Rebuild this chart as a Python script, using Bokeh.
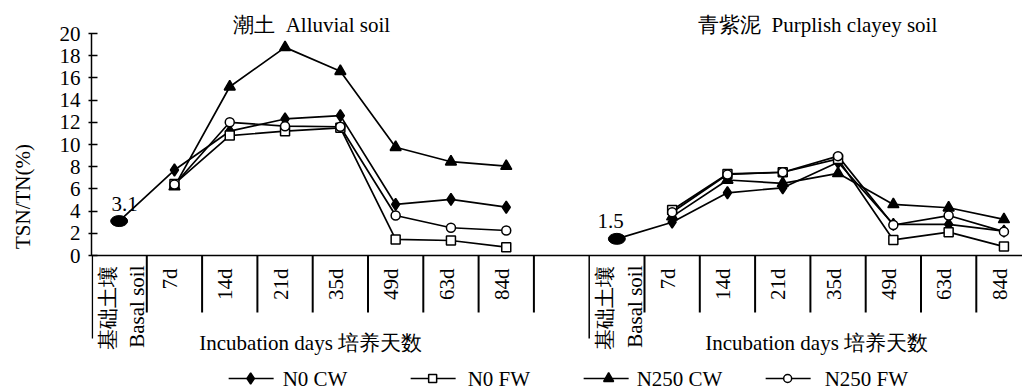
import math
from bokeh.plotting import figure
from bokeh.models import LinearAxis, FixedTicker, Range1d
from bokeh.core.properties import value
from bokeh.embed import file_html
from bokeh.resources import INLINE

# ---------------- data ----------------
days = ["7d", "14d", "21d", "35d", "49d", "63d", "84d"]
basal_cn = "基础土壤"
basal_en = "Basal soil"
soil_titles = ["潮土\u00a0 Alluvial soil", "青紫泥\u00a0 Purplish clayey soil"]
x_title = "Incubation days 培养天数"
y_title = "TSN/TN(%)"
series_names = ["N0 CW", "N0 FW", "N250 CW", "N250 FW"]
basal_values = [3.1, 1.5]
basal_texts = ["3.1", "1.5"]

alluvial_n0_cw = [7.7, 11.2, 12.3, 12.6, 4.6, 5.05, 4.35]
alluvial_n0_fw = [6.45, 10.8, 11.2, 11.5, 1.45, 1.35, 0.75]
alluvial_n250_cw = [6.2, 15.2, 18.75, 16.6, 9.75, 8.45, 8.05]
alluvial_n250_fw = [6.4, 12.0, 11.65, 11.6, 3.6, 2.5, 2.25]

purplish_n0_cw = [3.0, 5.65, 6.1, 8.4, 2.8, 2.8, 2.2]
purplish_n0_fw = [4.1, 7.35, 7.5, 8.7, 1.4, 2.1, 0.8]
purplish_n250_cw = [3.5, 6.8, 6.5, 7.4, 4.6, 4.3, 3.25]
purplish_n250_fw = [3.9, 7.3, 7.5, 8.95, 2.75, 3.6, 2.15]

y_ticks = list(range(0, 21, 2))

# ---------------- layout helpers (page pixels -> data) ----------------
CAT_PX = 55.3
UNIT_PX = 11.1
def X(px):
    return (px - 118.5) / CAT_PX
def Y(py):
    return (255.0 - py) / UNIT_PX

W, H = 1022, 392
LEFT = 91
x0 = -0.5
x1 = -0.5 + (W - LEFT) / CAT_PX
y0 = Y(H)
y1 = Y(0)

FONT = value("Liberation Serif")
FS = "21px"

p = figure(width=W, height=H, x_range=Range1d(x0, x1), y_range=Range1d(y0, y1),
           output_backend="svg", toolbar_location=None,
           x_axis_type=None, y_axis_type=None,
           min_border_left=LEFT, min_border_right=0, min_border_top=0, min_border_bottom=0)
p.outline_line_color = None
p.background_fill_color = "white"

yaxis = LinearAxis(bounds=(0, 20), ticker=FixedTicker(ticks=y_ticks), axis_label=y_title)
yaxis.axis_line_width = 1.5
yaxis.axis_line_color = "black"
yaxis.major_tick_in = 6
yaxis.major_tick_out = 3
yaxis.major_tick_line_width = 1.5
yaxis.minor_tick_line_color = None
yaxis.major_label_text_font = "Liberation Serif"
yaxis.major_label_text_font_size = FS
yaxis.major_label_text_color = "black"
yaxis.major_label_standoff = 8
yaxis.axis_label_text_font = "Liberation Serif"
yaxis.axis_label_text_font_size = FS
yaxis.axis_label_text_font_style = "normal"
yaxis.axis_label_text_color = "black"
yaxis.axis_label_standoff = 22
p.add_layout(yaxis, "left")

# ---------------- category axis (drawn on data scale) ----------------
n_cat = 17
bounds_x = [k - 0.5 for k in range(1, n_cat)]
short_x = [b for b in bounds_x if abs(b - 8.5) > 1e-9]
p.segment(x0=[x0], y0=[0], x1=[x1], y1=[0], line_color="black", line_width=1.5)
p.segment(x0=short_x, y0=[0] * len(short_x), x1=short_x, y1=[Y(312)] * len(short_x),
          line_color="black", line_width=2)
long_x = [x0 + 0.015, 8.5]
p.segment(x0=long_x, y0=[0, 0], x1=long_x, y1=[Y(338), Y(338)], line_color="black", line_width=1.5)

day_x = []
day_t = []
for off in (0, 9):
    for i, d in enumerate(days):
        day_x.append(off + 1 + i - 0.08)
        day_t.append(d)
p.text(x=day_x, y=[Y(268)] * len(day_x), text=day_t, angle=math.pi / 2,
       text_align="right", text_baseline="middle", text_font=FONT, text_font_size=FS,
       text_color="black")
bx, bt = [], []
for off in (0, 9):
    bx += [off - 0.21, off + 0.33]
    bt += [basal_cn, basal_en]
p.text(x=bx, y=[Y(265)] * 4, text=bt, angle=math.pi / 2,
       text_align="right", text_baseline="middle", text_font=FONT, text_font_size=FS,
       text_color="black")

# titles
p.text(x=[X(311), X(817)], y=[Y(24)] * 2, text=soil_titles, text_align="center",
       text_baseline="middle", text_font=FONT, text_font_size=FS, text_color="black")
p.text(x=[X(310), X(816)], y=[Y(342)] * 2, text=[x_title] * 2, text_align="center",
       text_baseline="middle", text_font=FONT, text_font_size=FS, text_color="black")

# ---------------- series ----------------
styles = {
    "N0 CW": dict(marker="diamond", size=12, fill_color="black"),
    "N0 FW": dict(marker="square", size=9, fill_color="white"),
    "N250 CW": dict(marker="triangle", size=11, fill_color="black"),
    "N250 FW": dict(marker="circle", size=9, fill_color="white"),
}
left_data = [alluvial_n0_cw, alluvial_n0_fw, alluvial_n250_cw, alluvial_n250_fw]
right_data = [purplish_n0_cw, purplish_n0_fw, purplish_n250_cw, purplish_n250_fw]

for name, ld, rd in zip(series_names, left_data, right_data):
    for off, vals, b in ((0, ld, basal_values[0]), (9, rd, basal_values[1])):
        xs = [off + 1 + i for i in range(len(vals))]
        ys = list(vals)
        if name == "N0 CW":
            xs = [off] + xs
            ys = [b] + ys
        p.line(xs, ys, line_color="black", line_width=1.7)

for name, ld, rd in zip(series_names, left_data, right_data):
    st = styles[name]
    for off, vals in ((0, ld), (9, rd)):
        xs = [off + 1 + i for i in range(len(vals))]
        p.scatter(xs, vals, marker=st["marker"], size=st["size"], fill_color=st["fill_color"],
                  line_color="black", line_width=1.5)

# basal soil points
p.ellipse(x=[0, 9], y=basal_values, width=17, height=11, width_units="screen",
          height_units="screen", fill_color="black", line_color="black")
p.text(x=[X(124), X(610)], y=[Y(203), Y(220)], text=basal_texts, text_align="center",
       text_baseline="middle", text_font=FONT, text_font_size=FS, text_color="black")

# ---------------- legend ----------------
ly = Y(378)
leg_line = [(228, 273), (410, 455), (583, 628), (765, 810)]
leg_mark = [250, 432, 608, 787]
leg_text = [282, 467, 636, 824]
for name, (a, b), m, t in zip(series_names, leg_line, leg_mark, leg_text):
    st = styles[name]
    p.segment(x0=[X(a)], y0=[ly], x1=[X(b)], y1=[ly], line_color="black", line_width=1.7)
    p.scatter([X(m)], [ly], marker=st["marker"], size=st["size"] - 1, fill_color=st["fill_color"],
              line_color="black", line_width=1.5)
    p.text(x=[X(t)], y=[ly], text=[name], text_align="left", text_baseline="middle",
           text_font=FONT, text_font_size=FS, text_color="black")

open("out.html", "w").write(file_html(p, INLINE))
